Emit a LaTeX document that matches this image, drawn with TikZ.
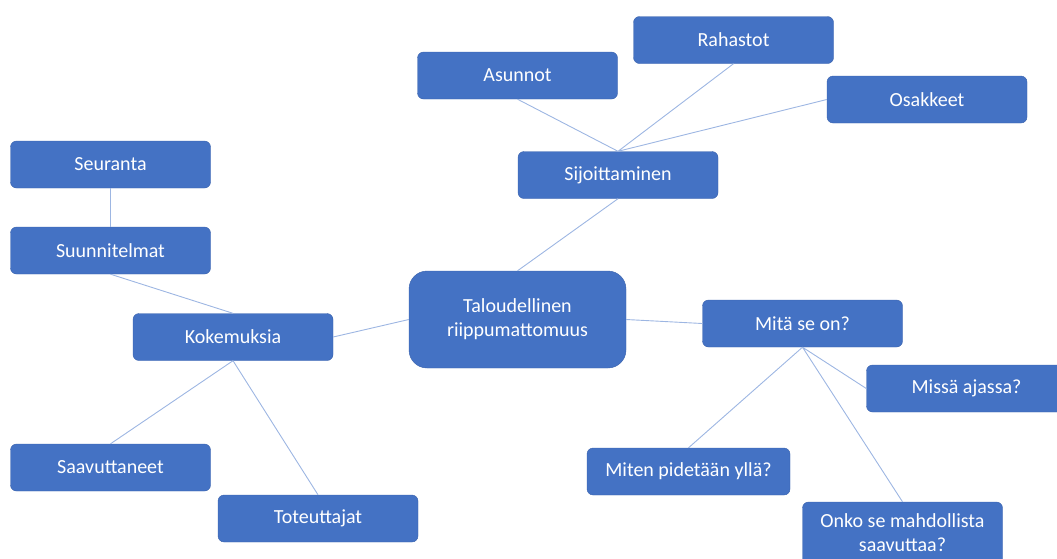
\documentclass[tikz,border=0pt]{standalone}
\usepackage{fontspec}
\setmainfont{Carlito}
\definecolor{boxblue}{HTML}{4472C4}
\definecolor{boxedge}{HTML}{3A62AC}
\definecolor{linkblue}{HTML}{9DB6E2}
\begin{document}
\begin{tikzpicture}[x=1pt,y=-1pt,
  topic/.style={draw=boxedge,fill=boxblue,text=white,rounded corners=6pt,
    minimum width=200pt,minimum height=47pt,inner sep=2pt,align=center,
    font=\fontsize{20}{24}\selectfont},
  maintopic/.style={topic,rounded corners=18pt,minimum width=217pt,minimum height=97pt},
  link/.style={draw=linkblue,line width=0.9pt}]
\useasboundingbox (0,0) rectangle (1057,558);
\clip (0,0) rectangle (1057,558);
% top branch
\node[topic] (asunnot) at (517.5,75.5) {Asunnot};
\node[topic] (rahastot) at (733.5,40) {Rahastot};
\node[topic] (osakkeet) at (927,99.5) {Osakkeet};
\node[topic] (sijoitus) at (618,175) {Sijoittaminen};
% centre
\node[maintopic] (talous) at (517.5,319.5) {Taloudellinen\\riippumattomuus};
% right branch
\node[topic] (mita) at (802.5,323.5) {Mitä se on?};
\node[topic] (missa) at (966.5,388.5) {Missä ajassa?};
\node[topic,minimum width=203pt] (miten) at (688.5,471.5) {Miten pidetään yllä?};
\node[topic,minimum height=66pt,text depth=4pt] (onko) at (902.5,535) {Onko se mahdollista\\saavuttaa?};
% left branch
\node[topic] (seuranta) at (110.5,164.5) {Seuranta};
\node[topic] (suunnitelmat) at (110.5,250.5) {Suunnitelmat};
\node[topic] (kokemuksia) at (233,337) {Kokemuksia};
\node[topic] (saavuttaneet) at (110.5,467.5) {Saavuttaneet};
\node[topic] (toteuttajat) at (318,518.5) {Toteuttajat};
% connectors
\path[link] (asunnot.south) -- (sijoitus.north)
  (rahastot.south) -- (sijoitus.north)
  (osakkeet.west) -- (sijoitus.north)
  (sijoitus.south) -- (talous.north)
  (talous.west) -- (kokemuksia.east)
  (talous.east) -- (mita.west)
  (mita.south) -- (missa.west)
  (mita.south) -- (miten.north)
  (mita.south) -- (onko.north)
  (seuranta.south) -- (suunnitelmat.north)
  (suunnitelmat.south) -- (kokemuksia.north)
  (kokemuksia.south) -- (saavuttaneet.north)
  (kokemuksia.south) -- (toteuttajat.north);
\end{tikzpicture}
\end{document}
